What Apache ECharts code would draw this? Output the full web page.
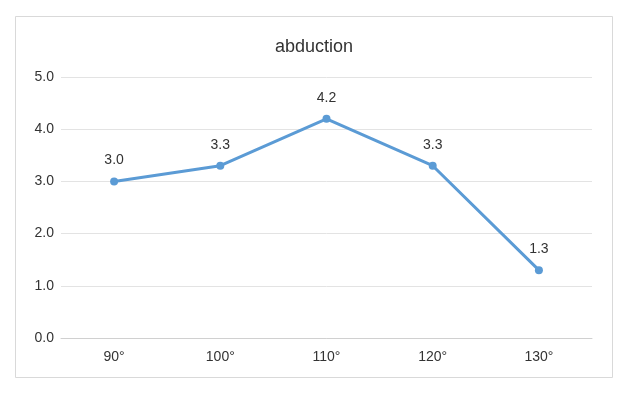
<!DOCTYPE html>
<html>
<head>
<meta charset="utf-8">
<script src="https://cdn.jsdelivr.net/npm/echarts@6/dist/echarts.min.js"></script>
<style>html,body{margin:0;padding:0;background:#fff}#c{width:628px;height:396px}</style>
</head>
<body>
<div id="c"></div>
<script>
const categories = ['90°', '100°', '110°', '120°', '130°'];
const values = [3.0, 3.3, 4.2, 3.3, 1.3];
const titleText = 'abduction';

const chart = echarts.init(document.getElementById('c'), null, {renderer: 'canvas'});
chart.setOption({
  animation: false,
  backgroundColor: '#fff',
  title: {
    text: titleText, left: 'center', top: 33,
    textStyle: {fontFamily: 'Liberation Sans, Arial', fontSize: 18, fontWeight: 'normal', color: '#333'}
  },
  graphic: [{
    type: 'rect', shape: {x: 15.5, y: 16.5, width: 597, height: 361},
    style: {fill: 'none', stroke: '#d9d9d9', lineWidth: 1}, silent: true, z: -1
  }],
  grid: {left: 61, right: 36, top: 77, bottom: 58},
  xAxis: {
    type: 'category', data: categories, boundaryGap: true,
    axisLine: {lineStyle: {color: '#d0d0d0', width: 1}},
    axisTick: {show: false},
    axisLabel: {fontFamily: 'Liberation Sans, Arial', fontSize: 14, color: '#333', margin: 12}
  },
  yAxis: {
    type: 'value', min: 0, max: 5, interval: 1,
    axisLine: {show: false}, axisTick: {show: false},
    axisLabel: {fontFamily: 'Liberation Sans, Arial', fontSize: 14, color: '#333', margin: 7,
      formatter: v => v.toFixed(1)},
    splitLine: {lineStyle: {color: '#e3e3e3', width: 1}}
  },
  series: [{
    type: 'line', data: values,
    lineStyle: {color: '#5b9bd5', width: 3},
    itemStyle: {color: '#5b9bd5'},
    symbol: 'circle', symbolSize: 8,
    label: {show: true, position: 'top', distance: 10, fontFamily: 'Liberation Sans, Arial', fontSize: 14, color: '#333',
      formatter: p => p.value.toFixed(1)}
  }]
});
</script>
</body>
</html>
